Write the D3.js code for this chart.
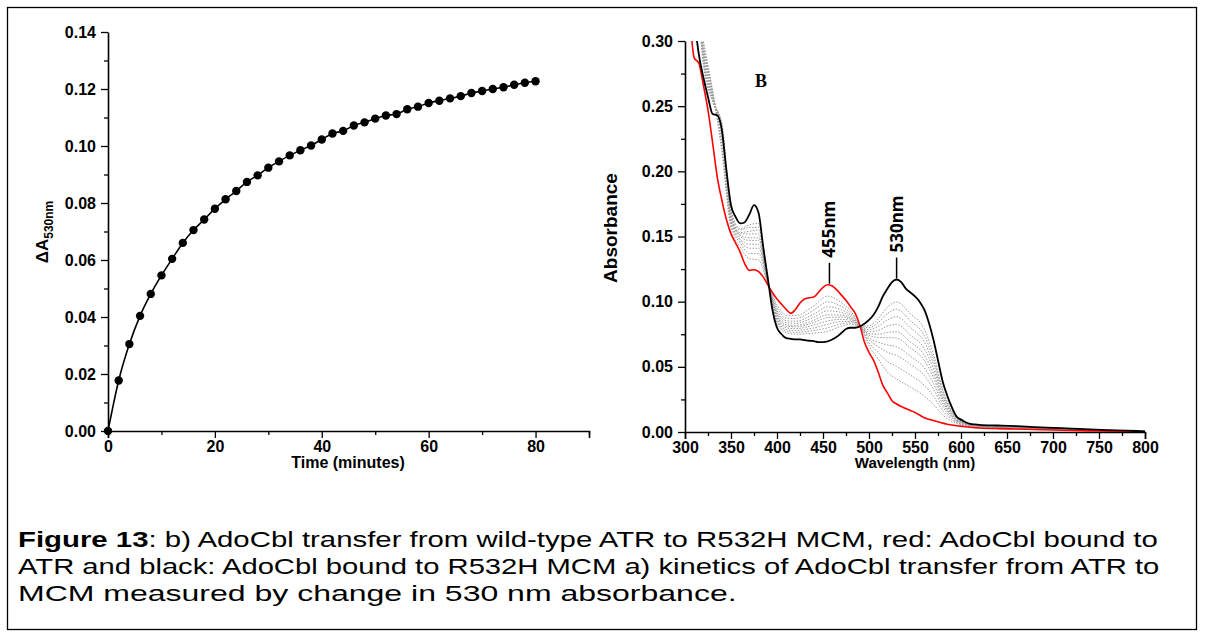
<!DOCTYPE html>
<html><head><meta charset="utf-8">
<script src="https://cdn.jsdelivr.net/npm/d3@7/dist/d3.min.js"></script>
<style>
body{margin:0;background:#fff;}
svg{display:block;}
.tick text{font-family:"Liberation Sans",Arial,sans-serif;font-weight:bold;}
</style></head>
<body><svg id="c" width="1205" height="637"></svg>
<script>
// ---------- Panel a: kinetics ----------
const timeMin = [0,2,4,6,8,10,12,14,16,18,20,22,24,26,28,30,32,34,36,38,40,42,44,46,48,50,52,54,56,58,60,62,64,66,68,70,72,74,76,78,80];
const dA530 = [0,0.0177,0.0305,0.0404,0.0481,0.0546,0.0604,0.0660,0.0705,0.0742,0.0780,0.0813,0.0842,0.0874,0.0897,0.0924,0.0946,0.0967,0.0985,0.1002,0.1023,0.1044,0.1053,0.1072,0.1083,0.1096,0.1107,0.1112,0.1129,0.1138,0.1151,0.1159,0.1167,0.1175,0.1186,0.1193,0.1200,0.1206,0.1215,0.1222,0.1227];
const kinXTicks = [0,20,40,60,80];
const kinYTicks = [0,0.02,0.04,0.06,0.08,0.10,0.12,0.14];

// ---------- Panel b: spectra ----------
const wl = [306,310,315,320,325,330,335,340,345,350,355,360,365,370,375,380,385,390,395,400,405,410,415,420,425,430,435,440,445,450,455,460,465,470,475,480,485,490,495,500,505,510,515,520,525,530,535,540,545,550,555,560,565,570,575,580,585,590,595,600,605,610,615,620,640,660,680,700,720,740,760,780,800];
const absMCM = [0.36,0.32,0.29,0.272,0.257,0.244,0.243,0.232,0.201,0.174,0.165,0.160,0.161,0.167,0.174,0.168,0.142,0.118,0.094,0.080,0.075,0.072,0.0715,0.071,0.071,0.0705,0.070,0.0698,0.069,0.069,0.0695,0.071,0.073,0.076,0.079,0.080,0.080,0.081,0.083,0.086,0.090,0.096,0.104,0.110,0.115,0.117,0.115,0.110,0.107,0.104,0.100,0.094,0.084,0.071,0.055,0.039,0.028,0.019,0.012,0.0095,0.0075,0.0062,0.0058,0.0055,0.005,0.0045,0.0038,0.0032,0.0026,0.002,0.0015,0.001,0.0005];
const absATR = [0.312,0.287,0.283,0.266,0.247,0.222,0.196,0.178,0.163,0.152,0.145,0.138,0.129,0.124,0.1245,0.123,0.119,0.113,0.107,0.102,0.098,0.094,0.091,0.094,0.099,0.102,0.103,0.1036,0.107,0.111,0.113,0.112,0.109,0.105,0.101,0.096,0.091,0.082,0.069,0.061,0.055,0.046,0.036,0.030,0.024,0.0215,0.0195,0.018,0.0165,0.015,0.013,0.011,0.0098,0.0088,0.0078,0.0068,0.006,0.0054,0.0048,0.0045,0.004,0.0036,0.0033,0.0031,0.0026,0.0023,0.0019,0.0015,0.0012,0.0009,0.0007,0.0005,0.0003];
// intermediate spectra (grey dotted), sampled on a coarser grid
const wlMid = [315,320,330,340,350,360,370,380,390,400,410,420,440,455,470,480,490,500,510,520,530,545,560,570,580,590,600,620,700,800];
const absMid = [
 [0.32,0.300,0.262,0.215,0.156,0.142,0.133,0.132,0.114,0.0976,0.0896,0.0894,0.0968,0.1043,0.0992,0.0928,0.0818,0.066,0.056,0.046,0.0406,0.0346,0.0276,0.0212,0.0132,0.0081,0.0055,0.0036,0.0018,0.0004],
 [0.32,0.298,0.261,0.219,0.159,0.145,0.137,0.137,0.1145,0.0954,0.0874,0.0871,0.0935,0.0999,0.0963,0.0912,0.0817,0.0685,0.061,0.054,0.0502,0.0437,0.0359,0.0275,0.0165,0.0095,0.006,0.0038,0.002,0.0004],
 [0.32,0.296,0.260,0.223,0.161,0.147,0.141,0.141,0.115,0.0934,0.0854,0.085,0.0904,0.096,0.0937,0.0898,0.0816,0.0708,0.0655,0.0612,0.0587,0.0518,0.0434,0.0331,0.0194,0.0107,0.0065,0.004,0.0022,0.0004],
 [0.32,0.294,0.259,0.226,0.162,0.148,0.144,0.144,0.115,0.0919,0.0839,0.0834,0.088,0.093,0.0917,0.0886,0.0815,0.0725,0.069,0.0668,0.0654,0.0581,0.0492,0.0374,0.0216,0.0117,0.0068,0.0042,0.0023,0.0004],
 [0.32,0.292,0.258,0.229,0.164,0.150,0.147,0.147,0.1157,0.0903,0.0823,0.0818,0.0857,0.0899,0.0896,0.0875,0.0815,0.0743,0.0725,0.0724,0.0721,0.0645,0.055,0.0418,0.0239,0.0126,0.0072,0.0044,0.0024,0.0004],
 [0.32,0.290,0.257,0.231,0.165,0.151,0.149,0.149,0.116,0.0892,0.0812,0.0807,0.084,0.0878,0.0882,0.0867,0.0814,0.0755,0.075,0.0764,0.0769,0.069,0.0591,0.0449,0.0255,0.0133,0.0074,0.0045,0.0025,0.0004],
 [0.32,0.288,0.256,0.233,0.166,0.152,0.152,0.152,0.116,0.0879,0.0799,0.0793,0.082,0.0852,0.0864,0.0858,0.0814,0.077,0.078,0.0812,0.0826,0.0744,0.0641,0.0486,0.0274,0.0141,0.0077,0.0046,0.0026,0.0004],
 [0.32,0.286,0.255,0.235,0.167,0.153,0.154,0.155,0.1165,0.0866,0.0786,0.0779,0.0799,0.0826,0.0847,0.0848,0.0813,0.0785,0.081,0.086,0.0884,0.080,0.0691,0.0523,0.0293,0.0149,0.008,0.0048,0.0027,0.0004],
 [0.32,0.284,0.254,0.236,0.169,0.155,0.157,0.157,0.117,0.0853,0.0773,0.0765,0.0779,0.0799,0.083,0.0838,0.0812,0.080,0.084,0.0908,0.0941,0.0853,0.0741,0.0561,0.0313,0.0157,0.0083,0.0049,0.0028,0.0004],
 [0.32,0.282,0.253,0.237,0.170,0.156,0.159,0.160,0.117,0.084,0.076,0.0751,0.0759,0.0773,0.0812,0.0829,0.0812,0.0815,0.087,0.0956,0.0998,0.0907,0.0791,0.0598,0.0332,0.0166,0.0086,0.0051,0.0029,0.0004]
];
const specXTicks = [300,350,400,450,500,550,600,650,700,750,800];
const specYTicks = [0,0.05,0.10,0.15,0.20,0.25,0.30];
const peakLabels = ["455nm","530nm"];
const peakWl = [457,530];
const peakAbs = [0.113,0.117];

const captionLines = [
  ["Figure 13", ": b) AdoCbl transfer from wild-type ATR to R532H MCM, red: AdoCbl bound to"],
  ["", "ATR and black: AdoCbl bound to R532H MCM a) kinetics of AdoCbl transfer from ATR to"],
  ["", "MCM measured by change in 530 nm absorbance."]
];

const svg = d3.select("#c");
const FONT = '"Liberation Sans", Arial, sans-serif';
svg.append("rect").attr("x",0).attr("y",0).attr("width",1205).attr("height",637).attr("fill","#fff");
svg.append("rect").attr("x",7.5).attr("y",7.5).attr("width",1189).attr("height",622)
  .attr("fill","none").attr("stroke","#000").attr("stroke-width",1.3);

function styleAxis(g, fs){
  g.select(".domain").attr("stroke","#000").attr("stroke-width",1.6);
  g.selectAll(".tick line").attr("stroke","#000").attr("stroke-width",1.3);
  g.selectAll(".tick text").attr("font-size",fs).attr("fill","#000");
}

// ----- Panel a -----
const xa = d3.scaleLinear().domain([0,90]).range([108,589]);
const ya = d3.scaleLinear().domain([0,0.14]).range([431,32]);
const gaxm = svg.append("g").attr("transform","translate(0,431)")
  .call(d3.axisBottom(xa).tickValues(d3.range(10,91,20)).tickSize(4).tickFormat(""));
styleAxis(gaxm,16); gaxm.select(".domain").remove();
const gaym = svg.append("g").attr("transform","translate(108,0)")
  .call(d3.axisLeft(ya).tickValues(d3.range(0.01,0.14,0.02)).tickSize(4).tickFormat(""));
styleAxis(gaym,16); gaym.select(".domain").remove();
const gax = svg.append("g").attr("transform","translate(0,431)")
  .call(d3.axisBottom(xa).tickValues(kinXTicks).tickSize(7).tickSizeOuter(7).tickPadding(3).tickFormat(d3.format("d")));
styleAxis(gax,16);
const gay = svg.append("g").attr("transform","translate(108,0)")
  .call(d3.axisLeft(ya).tickValues(kinYTicks).tickSize(7).tickSizeOuter(0).tickPadding(5).tickFormat(d3.format(".2f")));
styleAxis(gay,16);

const kin = timeMin.map((t,i)=>[t,dA530[i]]);
svg.append("path").datum(kin).attr("fill","none").attr("stroke","#000").attr("stroke-width",1.6)
  .attr("d",d3.line().x(d=>xa(d[0])).y(d=>ya(d[1])).curve(d3.curveMonotoneX));
svg.append("g").selectAll("circle").data(kin).join("circle")
  .attr("cx",d=>xa(d[0])).attr("cy",d=>ya(d[1])).attr("r",4.2).attr("fill","#000");

svg.append("text").attr("x",348).attr("y",468).attr("text-anchor","middle")
  .attr("font-family",FONT).attr("font-weight","bold").attr("font-size",16).text("Time (minutes)");
const yl = svg.append("text").attr("transform","translate(48,232) rotate(-90)").attr("text-anchor","middle")
  .attr("font-family",FONT).attr("font-weight","bold").attr("font-size",17);
yl.append("tspan").text("ΔA");
yl.append("tspan").attr("font-size",12).attr("dy",5).text("530nm");

// ----- Panel b -----
const xb = d3.scaleLinear().domain([300,800]).range([685,1145]);
const yb = d3.scaleLinear().domain([0,0.30]).range([432,41]);
const gbxm = svg.append("g").attr("transform","translate(0,432)")
  .call(d3.axisBottom(xb).tickValues(d3.range(325,800,50)).tickSize(4).tickFormat(""));
styleAxis(gbxm,16); gbxm.select(".domain").remove();
const gbym = svg.append("g").attr("transform","translate(685,0)")
  .call(d3.axisLeft(yb).tickValues(d3.range(0.025,0.30,0.05)).tickSize(4).tickFormat(""));
styleAxis(gbym,16); gbym.select(".domain").remove();
const gbx = svg.append("g").attr("transform","translate(0,432)")
  .call(d3.axisBottom(xb).tickValues(specXTicks).tickSize(7).tickSizeOuter(7).tickPadding(3).tickFormat(d3.format("d")));
styleAxis(gbx,16);
const gby = svg.append("g").attr("transform","translate(685,0)")
  .call(d3.axisLeft(yb).tickValues(specYTicks).tickSize(7).tickSizeOuter(0).tickPadding(5).tickFormat(d3.format(".2f")));
styleAxis(gby,16);

svg.append("clipPath").attr("id","clipb").append("rect").attr("x",685).attr("y",41).attr("width",460).attr("height",391);
const plotB = svg.append("g").attr("clip-path","url(#clipb)");
const lineB = d3.line().x(d=>xb(d[0])).y(d=>yb(d[1])).curve(d3.curveMonotoneX);
absMid.forEach(arr=>{
  plotB.append("path").datum(wlMid.map((w,i)=>[w,arr[i]])).attr("fill","none")
    .attr("stroke","#9a9a9a").attr("stroke-width",1).attr("stroke-dasharray","1.5,1.5").attr("d",lineB);
});
plotB.append("path").datum(wl.map((w,i)=>[w,absATR[i]])).attr("fill","none")
  .attr("stroke","#ff0000").attr("stroke-width",1.6).attr("d",lineB);
plotB.append("path").datum(wl.map((w,i)=>[w,absMCM[i]])).attr("fill","none")
  .attr("stroke","#000").attr("stroke-width",1.8).attr("d",lineB);

peakWl.forEach((w,i)=>{
  const x = xb(w);
  svg.append("line").attr("x1",x).attr("x2",x).attr("y1",yb(peakAbs[i])-1).attr("y2",yb(peakAbs[i])-22)
    .attr("stroke","#000").attr("stroke-width",1.5);
  svg.append("text").attr("transform",`translate(${x+6},${yb(peakAbs[i])-27}) rotate(-90)`)
    .attr("font-family",'"Open Sans","Noto Sans",sans-serif').attr("font-weight","bold").attr("font-size",17)
    .text(peakLabels[i]);
});
svg.append("text").attr("x",755).attr("y",87).attr("font-family",'"Liberation Serif","Times New Roman",serif')
  .attr("font-weight","bold").attr("font-size",18).text("B");
svg.append("text").attr("x",915).attr("y",468).attr("text-anchor","middle")
  .attr("font-family",FONT).attr("font-weight","bold").attr("font-size",15).text("Wavelength (nm)");
svg.append("text").attr("transform","translate(617,228) rotate(-90)").attr("text-anchor","middle")
  .attr("font-family",FONT).attr("font-weight","bold").attr("font-size",19).text("Absorbance");

// ----- caption (glyphs stretched horizontally like the reference) -----
const capY = [547,574,601];
const capRight = [1158,1160,737];
captionLines.forEach((ln,i)=>{
  const g = svg.append("g");
  const t = g.append("text").attr("x",0).attr("y",0).attr("font-family",FONT).attr("font-size",22).attr("fill","#000");
  if(ln[0]) t.append("tspan").attr("font-weight","bold").text(ln[0]);
  t.append("tspan").text(ln[1]);
  const w = t.node().getComputedTextLength();
  const sx = (capRight[i]-18)/w;
  g.attr("transform",`translate(18,${capY[i]}) scale(${sx},1)`);
});
</script></body></html>
